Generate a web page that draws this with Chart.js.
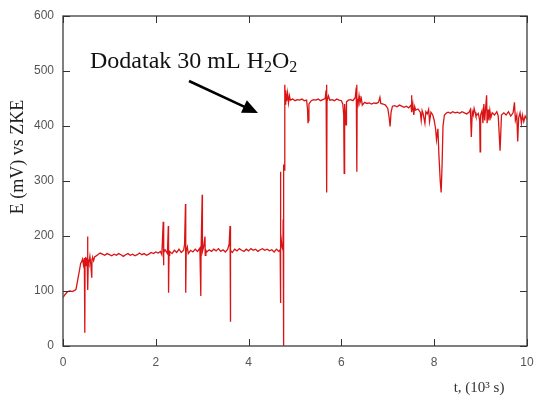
<!doctype html>
<html lang="hr">

<head>
    <meta charset="utf-8">
    <title>E vs t</title>
    <style>
        * {
            margin: 0;
            padding: 0;
        }

        body {
            background: white;
        }

        .chartBox {
            width: 535px;
            height: 398px;
        }
    </style>
</head>

<body>
    <div class="chartBox">
        <canvas id="myChart"></canvas>
    </div>

    <script src="https://cdn.jsdelivr.net/npm/chart.js"></script>

    <script>
        // time in 10^3 s, potential in mV vs ZKE
        // before the H2O2 addition
        const timeBefore = [
            0, 0.03, 0.06, 0.1, 0.15, 0.2, 0.25, 0.28, 0.3, 0.33,
            0.36, 0.38, 0.4, 0.42, 0.44, 0.46, 0.47, 0.475, 0.49, 0.5,
            0.52, 0.53, 0.535, 0.545, 0.56, 0.58, 0.6, 0.62, 0.625, 0.64,
            0.66, 0.68, 0.7, 0.75, 0.8, 0.85, 0.9, 0.95, 1.0, 1.05,
            1.1, 1.15, 1.2, 1.25, 1.3, 1.35, 1.4, 1.45, 1.5, 1.55,
            1.6, 1.65, 1.7, 1.75, 1.8, 1.85, 1.9, 1.95, 2.0, 2.05,
            2.1, 2.13, 2.16, 2.165, 2.175, 2.2, 2.25, 2.27, 2.275, 2.285,
            2.3, 2.35, 2.4, 2.45, 2.5, 2.55, 2.6, 2.62, 2.64, 2.645,
            2.655, 2.68, 2.7, 2.75, 2.8, 2.85, 2.9, 2.95, 2.97, 2.975,
            3.0, 3.005, 3.03, 3.06, 3.065, 3.08, 3.1, 3.15, 3.2, 3.25,
            3.3, 3.35, 3.4, 3.45, 3.5, 3.55, 3.58, 3.6, 3.605, 3.615,
            3.65, 3.7, 3.75, 3.8, 3.85, 3.9, 3.95, 4.0, 4.05, 4.1,
            4.15, 4.2, 4.25, 4.3, 4.35, 4.4, 4.45, 4.5, 4.55, 4.6,
            4.65, 4.68, 4.685, 4.69, 4.695, 4.72, 4.74, 4.745
        ];
        const potentialBefore = [
            88, 92, 95, 99, 100, 99, 101, 103, 112, 126,
            140, 150, 153, 158, 148, 160, 24, 150, 162, 145,
            160, 199, 102, 155, 150, 163, 148, 124, 158, 160,
            155, 162, 163, 166, 169, 167, 165, 168, 166, 164,
            167, 165, 168, 166, 163, 166, 168, 165, 167, 164,
            166, 169, 166, 168, 165, 167, 170, 168, 171, 169,
            172, 166, 226, 147, 170, 175, 168, 218, 97, 165,
            172, 168, 174, 170, 176, 170, 174, 185, 258, 97,
            172, 180, 168, 174, 171, 176, 172, 178, 91, 170,
            275, 172, 180, 199, 165, 174, 171, 175, 172, 176,
            173, 177, 172, 175, 171, 176, 185, 218, 44, 174,
            170, 176, 173, 177, 174, 172, 176, 173, 177, 174,
            176, 172, 175, 177, 174, 176, 173, 175, 171, 176,
            172, 175, 317, 78, 205, 180, 175, 230
        ];

        // after the H2O2 addition
        const timeAfter = [
            4.75, 4.76, 4.77, 4.78, 4.79, 4.8, 4.82, 4.84, 4.86, 4.88,
            4.9, 4.95, 5.0, 5.05, 5.1, 5.15, 5.2, 5.25, 5.27, 5.28,
            5.29, 5.3, 5.35, 5.4, 5.45, 5.5, 5.55, 5.6, 5.65, 5.67,
            5.68, 5.685, 5.69, 5.72, 5.75, 5.8, 5.85, 5.9, 5.95, 6.0,
            6.03, 6.05, 6.06, 6.07, 6.1, 6.11, 6.15, 6.2, 6.25, 6.3,
            6.32, 6.33, 6.335, 6.34, 6.36, 6.38, 6.4, 6.43, 6.45, 6.5,
            6.55, 6.6, 6.65, 6.7, 6.75, 6.8, 6.83, 6.85, 6.9, 6.95,
            7.0, 7.03, 7.05, 7.07, 7.1, 7.15, 7.2, 7.25, 7.3, 7.35,
            7.4, 7.45, 7.5, 7.51, 7.52, 7.54, 7.56, 7.58, 7.6, 7.65,
            7.7, 7.72, 7.74, 7.76, 7.8, 7.82, 7.85, 7.88, 7.9, 7.93,
            7.97, 8.0, 8.03, 8.05, 8.08, 8.1, 8.13, 8.15, 8.17, 8.19,
            8.22, 8.27, 8.3, 8.35, 8.4, 8.45, 8.5, 8.55, 8.6, 8.65,
            8.7, 8.75, 8.78, 8.8, 8.82, 8.84, 8.86, 8.88, 8.9, 8.95,
            8.98, 8.99, 9.0, 9.03, 9.05, 9.07, 9.09, 9.11, 9.13, 9.14,
            9.16, 9.18, 9.2, 9.22, 9.25, 9.3, 9.35, 9.38, 9.42, 9.45,
            9.5, 9.55, 9.6, 9.65, 9.7, 9.73, 9.75, 9.78, 9.8, 9.82,
            9.85, 9.88, 9.9, 9.93, 9.96, 10.0
        ];
        const potentialAfter = [
            0, 330, 320, 475, 440, 465, 445, 460, 442, 455,
            447, 449, 446, 448, 447, 449, 446, 447, 430, 405,
            410, 440, 446, 448, 447, 449, 446, 448, 450, 465,
            475, 279, 445, 455, 447, 448, 446, 449, 447, 446,
            440, 420, 314, 440, 402, 444, 447, 448, 446, 452,
            470, 475, 317, 450, 440, 455, 442, 450, 438, 443,
            441, 442, 440, 442, 441, 443, 452, 441, 440, 438,
            432, 415, 399, 425, 436, 437, 435, 438, 436, 434,
            436, 433, 438, 456, 425, 440, 420, 435, 429, 431,
            425, 410, 428, 423, 405, 426, 422, 430, 408, 425,
            420, 410, 395, 375, 395, 350, 300, 279, 330, 400,
            420, 424, 425, 423, 426, 424, 425, 423, 426, 424,
            422, 425, 430, 380, 426, 420, 432, 425, 418, 423,
            410, 353, 420, 428, 405, 440, 410, 435, 456, 405,
            430, 410, 428, 415, 424, 420, 426, 418, 355, 420,
            424, 420, 426, 418, 424, 443, 410, 420, 372, 415,
            424, 405, 420, 408, 418, 412
        ];

        const xTicks = [0, 2, 4, 6, 8, 10];
        const yTicks = [0, 100, 200, 300, 400, 500, 600];

        const allTime = timeBefore.concat(timeAfter);
        const allPotential = potentialBefore.concat(potentialAfter);
        const points = allTime.map((t, i) => ({ x: t, y: allPotential[i] }));

        // box, inside tick marks, labels and the arrow
        const framePlugin = {
            id: 'frame',
            afterDraw(chart) {
                const ctx = chart.ctx;
                const area = chart.chartArea;
                const xs = chart.scales.x;
                const ys = chart.scales.y;
                ctx.save();

                ctx.strokeStyle = '#555';
                ctx.lineWidth = 1.5;
                ctx.strokeRect(area.left, area.top, area.right - area.left, area.bottom - area.top);

                ctx.strokeStyle = '#333';
                ctx.lineWidth = 1;
                ctx.beginPath();
                xTicks.forEach(v => {
                    const px = Math.round(xs.getPixelForValue(v)) + 0.5;
                    ctx.moveTo(px, area.bottom);
                    ctx.lineTo(px, area.bottom - 7);
                    ctx.moveTo(px, area.top);
                    ctx.lineTo(px, area.top + 7);
                });
                yTicks.forEach(v => {
                    const py = Math.round(ys.getPixelForValue(v)) + 0.5;
                    ctx.moveTo(area.left, py);
                    ctx.lineTo(area.left + 7, py);
                    ctx.moveTo(area.right, py);
                    ctx.lineTo(area.right - 7, py);
                });
                ctx.stroke();

                // y title
                ctx.fillStyle = '#222';
                ctx.font = '18px "Liberation Serif", serif';
                ctx.textAlign = 'center';
                ctx.textBaseline = 'middle';
                ctx.save();
                ctx.translate(18, 157);
                ctx.rotate(-Math.PI / 2);
                ctx.fillText('E (mV) vs ZKE', 0, 0);
                ctx.restore();

                // x title
                ctx.fillStyle = '#333';
                ctx.font = '15px "Liberation Serif", serif';
                ctx.fillText('t, (10³ s)', 479, 388);

                // annotation text with subscripts
                ctx.fillStyle = '#111';
                ctx.textAlign = 'left';
                ctx.textBaseline = 'alphabetic';
                let x = 90;
                const base = 68;
                const parts = [['Dodatak 30 mL H', 24, 0], ['2', 16, 4], ['O', 24, 0], ['2', 16, 4]];
                parts.forEach(p => {
                    ctx.font = p[1] + 'px "Liberation Serif", serif';
                    ctx.fillText(p[0], x, base + p[2]);
                    x += ctx.measureText(p[0]).width;
                });

                // arrow
                const x1 = 189, y1 = 81, x2 = 258, y2 = 113;
                const ang = Math.atan2(y2 - y1, x2 - x1);
                const head = 17;
                ctx.strokeStyle = '#000';
                ctx.lineWidth = 2.5;
                ctx.beginPath();
                ctx.moveTo(x1, y1);
                ctx.lineTo(x2 - head * 0.8 * Math.cos(ang), y2 - head * 0.8 * Math.sin(ang));
                ctx.stroke();
                ctx.fillStyle = '#000';
                ctx.beginPath();
                ctx.moveTo(x2, y2);
                ctx.lineTo(x2 - head * Math.cos(ang - 0.42), y2 - head * Math.sin(ang - 0.42));
                ctx.lineTo(x2 - head * Math.cos(ang + 0.42), y2 - head * Math.sin(ang + 0.42));
                ctx.closePath();
                ctx.fill();

                ctx.restore();
            }
        };

        const data = {
            datasets: [{
                label: 'E',
                data: points,
                borderColor: 'rgb(218, 20, 20)',
                borderWidth: 1.3,
                pointRadius: 0,
                tension: 0,
                fill: false
            }]
        };

        const config = {
            type: 'line',
            data,
            options: {
                responsive: true,
                maintainAspectRatio: false,
                animation: false,
                layout: {
                    padding: { top: 16, right: 8, left: 0, bottom: 0 }
                },
                plugins: {
                    legend: { display: false },
                    tooltip: { enabled: false }
                },
                scales: {
                    x: {
                        type: 'linear',
                        min: 0,
                        max: 10,
                        afterBuildTicks: scale => {
                            scale.ticks = xTicks.map(v => ({ value: v }));
                        },
                        afterFit: scale => {
                            scale.height = 52;
                            scale.paddingLeft = 0;
                            scale.paddingRight = 0;
                        },
                        grid: { display: false, drawTicks: false },
                        border: { display: false },
                        ticks: {
                            padding: 9,
                            color: '#555',
                            font: { family: 'Arial, "Liberation Sans", sans-serif', size: 12 },
                            maxRotation: 0
                        }
                    },
                    y: {
                        min: 0,
                        max: 600,
                        afterBuildTicks: scale => {
                            scale.ticks = yTicks.map(v => ({ value: v }));
                        },
                        afterFit: scale => {
                            scale.width = 63;
                            scale.paddingTop = 0;
                            scale.paddingBottom = 0;
                        },
                        grid: { display: false, drawTicks: false },
                        border: { display: false },
                        ticks: {
                            padding: 9,
                            color: '#555',
                            font: { family: 'Arial, "Liberation Sans", sans-serif', size: 12 }
                        }
                    }
                }
            },
            plugins: [framePlugin]
        };

        const myChart = new Chart(
            document.getElementById('myChart'),
            config
        );
    </script>

</body>

</html>
